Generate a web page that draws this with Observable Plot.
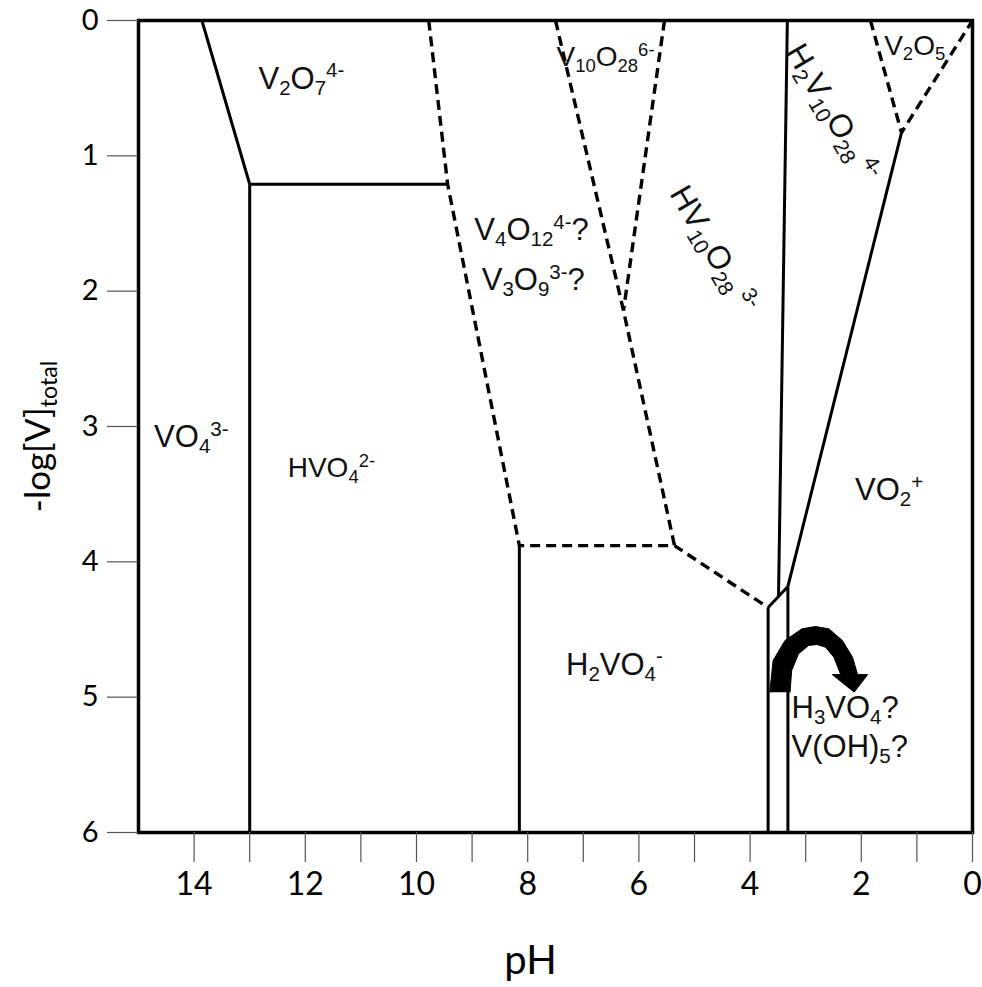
<!DOCTYPE html>
<html>
<head>
<meta charset="utf-8">
<script src="https://cdn.jsdelivr.net/npm/d3@7"></script>
<script src="https://cdn.jsdelivr.net/npm/@observablehq/plot@0.6"></script>
<style>
  body { margin: 0; background: #fff; }
  svg { display: block; }
</style>
</head>
<body>
<div id="chart"></div>
<script>
// ---- axis ticks ----
const xTicks = [0, 1, 2, 3, 4, 5, 6, 7, 8, 9, 10, 11, 12, 13, 14];
const yTicks = [0, 1, 2, 3, 4, 5, 6];

// ---- boundaries: polylines of [pH, -log[V]total] ----
const solidBoundaries = [
  [[13.86, 0], [13.0, 1.21], [13.0, 6]],
  [[13.0, 1.21], [9.44, 1.21]],
  [[8.15, 3.88], [8.15, 6]],
  [[3.676, 4.338], [3.676, 6]],
  [[3.676, 4.338], [3.32, 4.182], [3.32, 6]],
  [[3.33, 0], [3.489, 4.26]],
  [[3.32, 4.182], [1.277, 0.828]]
];
const dashedBoundaries = [
  [[9.78, 0], [9.44, 1.21], [8.15, 3.88], [5.36, 3.88], [3.676, 4.338]],
  [[7.5, 0], [6.277, 2.143], [5.36, 3.88]],
  [[5.54, 0], [6.277, 2.143]],
  [[1.835, 0], [1.277, 0.828], [0, 0]]
];

// ---- species labels (larger type) ----
const majorNames = ["V_{2}O_{7}^{4-}", "VO_{4}^{3-}", "V_{4}O_{12}^{4-}?", "V_{3}O_{9}^{3-}?", "VO_{2}^{+}", "H_{2}VO_{4}^{-}"];
const majorPH    = [12.07, 14.05, 7.93, 7.90, 1.50, 6.44];
const majorLogV  = [0.43, 3.08, 1.55, 1.92, 3.47, 4.76];

// ---- species labels (smaller type) ----
const minorNames = ["HVO_{4}^{2-}", "V_{10}O_{28}^{6-}", "V_{2}O_{5}"];
const minorPH    = [11.53, 6.60, 1.04];
const minorLogV  = [3.31, 0.27, 0.185];

// ---- slanted decavanadate labels ----
const slantedNames = ["H_{2}V_{10}O_{28 }^{4-}", "HV_{10}O_{28 }^{3-}"];
const slantedPH    = [2.52, 4.66];
const slantedLogV  = [0.68, 1.69];

// ---- neutral species (left aligned) ----
const neutralNames = ["H_{3}VO_{4}?", "V(OH)_{5}?"];
const neutralPH    = [3.255, 3.255];
const neutralLogV  = [5.08, 5.37];

// ---- curved arrow outline ----
const arrowPH   = [3.646, 3.586, 3.372, 3.068, 2.826, 2.583, 2.340, 2.158, 2.067,
                   1.885, 2.128, 2.522,
                   2.371, 2.493, 2.644, 2.795, 2.948, 3.129, 3.252, 3.282];
const arrowLogV = [4.963, 4.729, 4.581, 4.495, 4.478, 4.495, 4.581, 4.705, 4.833,
                   4.833, 4.963, 4.833,
                   4.833, 4.705, 4.631, 4.611, 4.618, 4.680, 4.803, 4.963];

// ---- build tables ----
const toRows = segs => segs.flatMap((s, i) => s.map(([pH, logV]) => ({seg: i, pH, logV})));
const zipLabels = (names, ph, lv) => names.map((name, i) => ({name, pH: ph[i], logV: lv[i]}));
const major = zipLabels(majorNames, majorPH, majorLogV);
const minor = zipLabels(minorNames, minorPH, minorLogV);
const slanted = zipLabels(slantedNames, slantedPH, slantedLogV);
const neutral = zipLabels(neutralNames, neutralPH, neutralLogV);
const arrow = arrowPH.map((pH, i) => ({pH, logV: arrowLogV[i]}));

const labelFont = "'Liberation Sans', Arial, sans-serif";

const chart = Plot.plot({
  width: 982,
  height: 987,
  marginLeft: 138,
  marginRight: 10,
  marginTop: 20,
  marginBottom: 155,
  x: {domain: [15, 0]},
  y: {domain: [0, 6], reverse: true},
  style: {background: "white", color: "black", fontFamily: "Lato, 'Open Sans', sans-serif"},
  marks: [
    Plot.line(toRows(dashedBoundaries), {x: "pH", y: "logV", z: "seg", stroke: "black", strokeWidth: 3.4,
      strokeDasharray: "10,6", strokeLinecap: "butt", strokeLinejoin: "miter"}),
    Plot.line(toRows(solidBoundaries), {x: "pH", y: "logV", z: "seg", stroke: "black", strokeWidth: 3,
      strokeLinecap: "butt", strokeLinejoin: "miter"}),
    Plot.line(arrow, {x: "pH", y: "logV", fill: "black", stroke: "black", strokeWidth: 1, curve: "linear"}),
    Plot.text(major, {x: "pH", y: "logV", text: "name", fontSize: 31, fontFamily: labelFont, fill: "#111"}),
    Plot.text(minor, {x: "pH", y: "logV", text: "name", fontSize: 28, fontFamily: labelFont, fill: "#111"}),
    Plot.text(slanted, {x: "pH", y: "logV", text: "name", fontSize: 32, rotate: 59.7, fontFamily: labelFont, fill: "#111"}),
    Plot.text(neutral, {x: "pH", y: "logV", text: "name", fontSize: 31, textAnchor: "start", fontFamily: labelFont, fill: "#111"}),
    Plot.frame({stroke: "black", strokeWidth: 3.5}),
    Plot.axisX({ticks: xTicks, tickFormat: d => (d % 2 === 0 ? String(d) : ""), tickSize: 30, tickPadding: 10,
      fontSize: 32, stroke: "#555", strokeWidth: 1.2, label: null}),
    Plot.axisY({ticks: yTicks, tickFormat: d => String(d), tickSize: 31, tickPadding: 9, fontSize: 29,
      stroke: "#555", strokeWidth: 1.2, label: null}),
    Plot.text(["pH"], {frameAnchor: "bottom", lineAnchor: "middle", textAnchor: "middle", dx: -25, dy: 129, fontSize: 40}),
    Plot.text(["-log[V]_{total}"], {frameAnchor: "left", textAnchor: "middle", lineAnchor: "middle",
      dx: -100, dy: 10, rotate: -90, fontSize: 35})
  ]
});

document.getElementById("chart").appendChild(chart);

// turn _{..} and ^{..} markup into real sub/superscript tspans
const NS = "http://www.w3.org/2000/svg";
d3.select(chart).selectAll("text").each(function () {
  const src = this.textContent;
  if (!/[_^]\{/.test(src)) return;
  const fs = parseFloat(getComputedStyle(this).fontSize) || 28;
  const parts = src.split(/(_\{[^}]*\}|\^\{[^}]*\})/).filter(s => s.length);
  while (this.firstChild) this.removeChild(this.firstChild);
  let shift = 0;
  for (const p of parts) {
    let target = 0, size = null, txt = p;
    if (p.startsWith("_{")) { target = 0.2 * fs; size = 0.66 * fs; txt = p.slice(2, -1); }
    else if (p.startsWith("^{")) { target = -0.36 * fs; size = 0.66 * fs; txt = p.slice(2, -1); }
    const t = document.createElementNS(NS, "tspan");
    if (target - shift !== 0) t.setAttribute("dy", (target - shift).toFixed(2));
    shift = target;
    if (size) t.setAttribute("font-size", size.toFixed(1));
    t.textContent = txt;
    this.appendChild(t);
  }
});
</script>
</body>
</html>
